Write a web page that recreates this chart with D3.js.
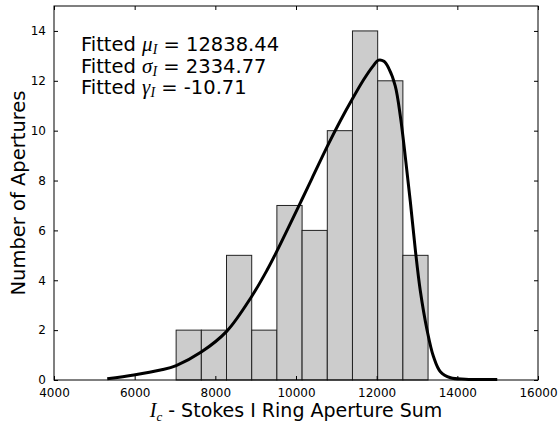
<!DOCTYPE html>
<html><head><meta charset="utf-8">
<script src="https://cdn.jsdelivr.net/npm/d3@7"></script>
<style>body{margin:0;background:#fff}svg{display:block}</style>
</head><body>
<script>
// Histogram bins (edges) and counts
const binEdges = [7028, 7653, 8277, 8902, 9526, 10151, 10776, 11400, 12025, 12650, 13274];
const counts = [2, 2, 5, 2, 7, 6, 10, 14, 12, 5];
// Fitted curve
const curveX = [5320, 5980, 6640, 7030, 7650, 8280, 8900, 9280, 9520, 10150, 10400, 10800, 11100, 11390, 11680, 11900, 12050, 12180, 12300, 12460, 12590, 12710, 12835, 12960, 13080, 13250, 13410, 13580, 13830, 14200, 14990];
const curveY = [0.05, 0.2, 0.4, 0.58, 1.12, 1.95, 3.35, 4.4, 5.15, 7.25, 8.1, 9.45, 10.4, 11.25, 12.05, 12.57, 12.83, 12.78, 12.5, 11.8, 10.55, 8.95, 7.15, 5.2, 3.6, 2.0, 0.93, 0.33, 0.09, 0.03, 0.02];
const xTicks = [4000, 6000, 8000, 10000, 12000, 14000, 16000];
const yTicks = [0, 2, 4, 6, 8, 10, 12, 14];
const annotations = [
  {sym: "μ", val: "12838.44"},
  {sym: "σ", val: "2334.77"},
  {sym: "γ", val: "-10.71"}
];

const W = 559, H = 429;
const m = {l: 54, r: 538, t: 6, b: 380};
const svg = d3.select("body").append("svg").attr("width", W).attr("height", H);
const x = d3.scaleLinear().domain([4000, 16000]).range([m.l, m.r]);
const y = d3.scaleLinear().domain([0, 15]).range([m.b, m.t]);

// bars
svg.append("g").selectAll("rect").data(counts).join("rect")
  .attr("x", (d, i) => x(binEdges[i]))
  .attr("width", (d, i) => x(binEdges[i + 1]) - x(binEdges[i]))
  .attr("y", d => y(d))
  .attr("height", d => y(0) - y(d))
  .attr("fill", "#cccccc").attr("stroke", "#222").attr("stroke-width", 1);

// curve
const pts = curveX.map((v, i) => [v, curveY[i]]);
svg.append("path").datum(pts)
  .attr("d", d3.line().x(d => x(d[0])).y(d => y(d[1])).curve(d3.curveCatmullRom.alpha(0.5)))
  .attr("fill", "none").attr("stroke", "#000").attr("stroke-width", 3);

// axes
const tickLen = 4;
const fontTick = "DejaVu Sans, sans-serif";
const fmt = d3.format("d");
const gB = svg.append("g").attr("transform", `translate(0,${m.b})`)
  .call(d3.axisBottom(x).tickValues(xTicks).tickFormat(fmt).tickSizeInner(-tickLen).tickSizeOuter(0).tickPadding(8));
const gT = svg.append("g").attr("transform", `translate(0,${m.t})`)
  .call(d3.axisTop(x).tickValues(xTicks).tickSizeInner(-tickLen).tickSizeOuter(0).tickFormat(""));
const gL = svg.append("g").attr("transform", `translate(${m.l},0)`)
  .call(d3.axisLeft(y).tickValues(yTicks).tickFormat(fmt).tickSizeInner(-tickLen).tickSizeOuter(0).tickPadding(8));
const gR = svg.append("g").attr("transform", `translate(${m.r},0)`)
  .call(d3.axisRight(y).tickValues(yTicks).tickSizeInner(-tickLen).tickSizeOuter(0).tickFormat(""));
[gB, gT, gL, gR].forEach(g => {
  g.select(".domain").remove();
  g.selectAll("line").attr("stroke", "#000").attr("stroke-width", 1);
  g.selectAll("text").attr("font-family", fontTick).attr("font-size", 12).attr("fill", "#000");
});
// frame
svg.append("rect").attr("x", m.l).attr("y", m.t).attr("width", m.r - m.l).attr("height", m.b - m.t)
  .attr("fill", "none").attr("stroke", "#000").attr("stroke-width", 1);

// axis labels
const xl = svg.append("text").attr("x", (m.l + m.r) / 2).attr("y", 417).attr("text-anchor", "middle")
  .attr("font-family", "DejaVu Sans, sans-serif").attr("font-size", 19).attr("fill", "#000");
xl.append("tspan").attr("font-family", "Liberation Serif, serif").attr("font-style", "italic").attr("font-size", 20).text("I");
xl.append("tspan").attr("font-family", "Liberation Serif, serif").attr("font-style", "italic").attr("font-size", 13).attr("dy", 4).text("c");
xl.append("tspan").attr("dy", -4).text(" - Stokes I Ring Aperture Sum");

svg.append("text").attr("transform", `translate(25,${(m.t + m.b) / 2}) rotate(-90)`)
  .attr("text-anchor", "middle").attr("font-family", "DejaVu Sans, sans-serif").attr("font-size", 19.5)
  .attr("fill", "#000").text("Number of Apertures");

// annotations
annotations.forEach((a, i) => {
  const t = svg.append("text").attr("x", 81).attr("y", 51 + i * 21.7)
    .attr("font-family", "DejaVu Sans, sans-serif").attr("font-size", 19.5).attr("fill", "#000");
  t.append("tspan").text("Fitted ");
  t.append("tspan").attr("font-family", "Liberation Serif, serif").attr("font-style", "italic").attr("font-size", 21).text(a.sym);
  t.append("tspan").attr("font-family", "Liberation Serif, serif").attr("font-style", "italic").attr("font-size", 14).attr("dy", 3).text("I");
  t.append("tspan").attr("dy", -3).text(" = " + a.val);
});
</script>
</body></html>
